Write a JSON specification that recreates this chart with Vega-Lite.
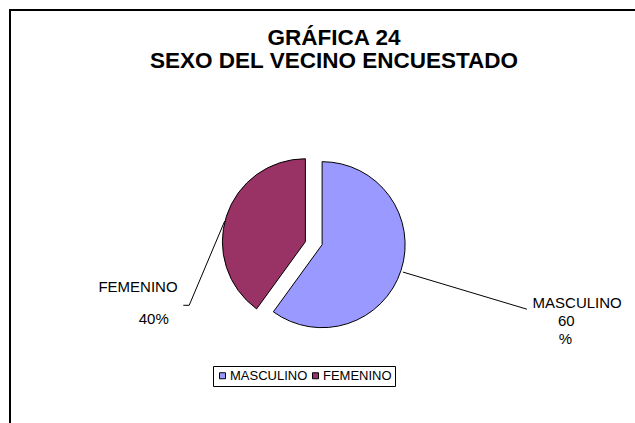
{
  "$schema": "https://vega.github.io/schema/vega-lite/v6.json",
  "width": 640,
  "height": 440,
  "padding": {"left": 10, "top": 10, "right": 0, "bottom": 0},
  "autosize": {"type": "none"},
  "background": "white",
  "config": {
    "view": {"stroke": "black", "strokeWidth": 2},
    "font": "Liberation Sans",
    "text": {"font": "Liberation Sans"}
  },
  "title": {
    "text": ["GRÁFICA 24\u00a0\u00a0\u00a0\u00a0\u00a0\u00a0\u00a0\u00a0", "SEXO DEL VECINO ENCUESTADO"],
    "font": "Liberation Sans",
    "fontSize": 22.5,
    "fontWeight": "bold",
    "color": "black",
    "anchor": "middle",
    "frame": "group",
    "offset": -62,
    "dx": 4,
    "lineHeight": 23
  },
  "datasets": {
    "sexo": [
      {"sexo": "MASCULINO", "valor": 60},
      {"sexo": "FEMENINO", "valor": 40}
    ],
    "guias": [
      {"sexo": "MASCULINO", "px": 399, "py": 268, "paso": 1},
      {"sexo": "MASCULINO", "px": 525, "py": 306, "paso": 2},
      {"sexo": "FEMENINO", "px": 218, "py": 216, "paso": 1},
      {"sexo": "FEMENINO", "px": 182, "py": 302, "paso": 2},
      {"sexo": "FEMENINO", "px": 176, "py": 302, "paso": 3}
    ],
    "etiquetas": [
      {"texto": "FEMENINO", "px": 130, "py": 283},
      {"texto": "40%", "px": 146, "py": 316},
      {"texto": "MASCULINO", "px": 576, "py": 300},
      {"texto": "60", "px": 565, "py": 318},
      {"texto": "%", "px": 564, "py": 336}
    ]
  },
  "layer": [
    {
      "data": {"name": "sexo"},
      "mark": {"type": "arc", "outerRadius": 83, "stroke": "black", "strokeWidth": 1},
      "encoding": {
        "theta": {"field": "valor", "type": "quantitative", "stack": true},
        "order": {"field": "valor", "type": "quantitative", "sort": "descending"},
        "x": {"datum": 317, "type": "quantitative", "scale": {"domain": [10, 650]}, "axis": null},
        "y": {"datum": 240, "type": "quantitative", "scale": {"domain": [10, 450], "reverse": true}, "axis": null},
        "color": {
          "field": "sexo",
          "type": "nominal",
          "scale": {"domain": ["MASCULINO", "FEMENINO"], "range": ["#9999FF", "#993366"]},
          "legend": {
            "orient": "none",
            "legendX": 203,
            "legendY": 356,
            "direction": "horizontal",
            "title": null,
            "strokeColor": "black",
            "padding": 3,
            "symbolType": "square",
            "symbolSize": 36,
            "symbolStrokeColor": "black",
            "symbolStrokeWidth": 1,
            "symbolOpacity": 1,
            "labelFont": "Liberation Sans",
            "labelFontSize": 13,
            "labelColor": "black",
            "columnPadding": 1,
            "labelOffset": 1
          }
        },
        "opacity": {"condition": {"test": "datum.sexo == 'FEMENINO'", "value": 0}, "value": 1}
      }
    },
    {
      "data": {"name": "sexo"},
      "mark": {"type": "arc", "outerRadius": 83, "stroke": "black", "strokeWidth": 1},
      "encoding": {
        "theta": {"field": "valor", "type": "quantitative", "stack": true},
        "order": {"field": "valor", "type": "quantitative", "sort": "descending"},
        "x": {"datum": 300, "type": "quantitative"},
        "y": {"datum": 237, "type": "quantitative"},
        "color": {"field": "sexo", "type": "nominal"},
        "opacity": {"condition": {"test": "datum.sexo == 'MASCULINO'", "value": 0}, "value": 1}
      }
    },
    {
      "data": {"name": "guias"},
      "mark": {"type": "line", "color": "black", "strokeWidth": 1},
      "encoding": {
        "x": {"field": "px", "type": "quantitative"},
        "y": {"field": "py", "type": "quantitative"},
        "detail": {"field": "sexo"},
        "order": {"field": "paso"}
      }
    },
    {
      "data": {"name": "etiquetas"},
      "mark": {"type": "text", "fontSize": 15, "color": "black", "font": "Liberation Sans"},
      "encoding": {
        "x": {"field": "px", "type": "quantitative"},
        "y": {"field": "py", "type": "quantitative"},
        "text": {"field": "texto"}
      }
    }
  ]
}
